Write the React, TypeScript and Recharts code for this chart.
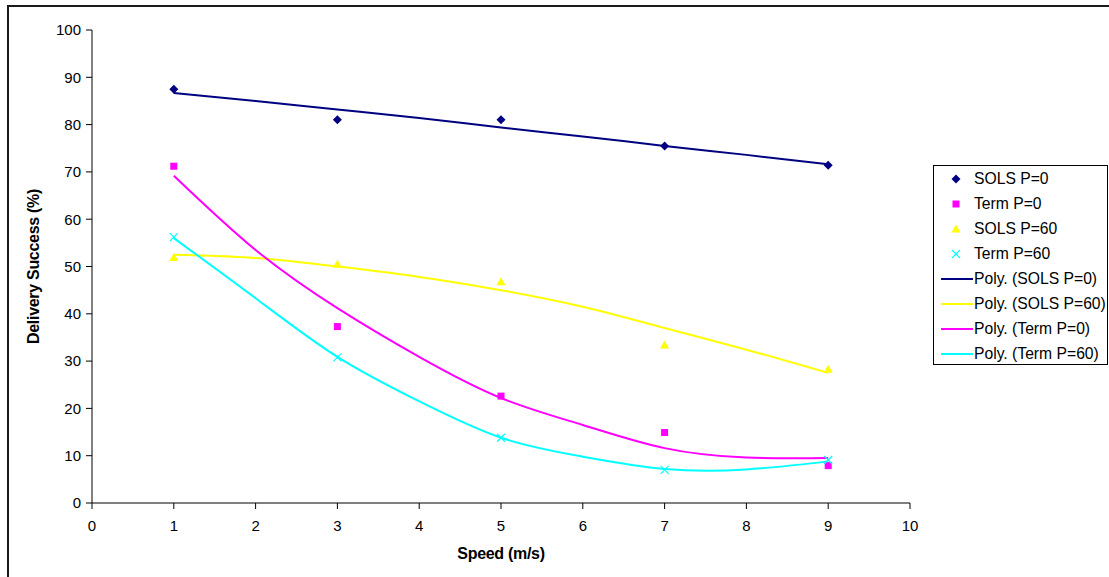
import React from 'react';
import { ComposedChart, XAxis, YAxis, Scatter, Line } from 'recharts';

// ---- data ----
const speeds = [1, 3, 5, 7, 9];
const solsP0 = [87.5, 81.0, 81.0, 75.5, 71.4];
const termP0 = [71.2, 37.3, 22.6, 14.9, 7.9];
const solsP60 = [51.9, 50.5, 46.8, 33.4, 28.3];
const termP60 = [56.2, 30.8, 13.8, 7.0, 9.1];

const fitSpeeds = [1, 2, 3, 4, 5, 6, 7, 8, 9];
const fitSolsP0 = [86.7, 85.0, 83.2, 81.4, 79.4, 77.5, 75.5, 73.6, 71.6];
const fitSolsP60 = [52.5, 51.8, 50.0, 47.8, 45.0, 41.5, 37.0, 32.4, 27.5];
const fitTermP0 = [69.2, 53.5, 41.2, 30.9, 22.2, 16.5, 11.6, 9.6, 9.5];
const fitTermP60 = [56.0, 43.3, 30.9, 21.5, 13.8, 9.8, 7.2, 7.1, 8.8];

const xTicks = [0, 1, 2, 3, 4, 5, 6, 7, 8, 9, 10];
const yTicks = [0, 10, 20, 30, 40, 50, 60, 70, 80, 90, 100];

const NAVY = '#000080';
const MAGENTA = '#FF00FF';
const YELLOW = '#FFFF00';
const CYAN = '#00FFFF';
const FONT = '"Liberation Sans", Arial, sans-serif';

const pts = (ys: number[]) => speeds.map((x, i) => ({ x, y: ys[i] }));
const fit = (ys: number[]) => fitSpeeds.map((x, i) => ({ x, y: ys[i] }));

const Diamond = (p: any) => (
  <polygon points={`${p.cx},${p.cy - 4.5} ${p.cx + 4.5},${p.cy} ${p.cx},${p.cy + 4.5} ${p.cx - 4.5},${p.cy}`} fill={NAVY} />
);
const Square = (p: any) => <rect x={p.cx - 3.5} y={p.cy - 3.5} width={7} height={7} fill={MAGENTA} />;
const Triangle = (p: any) => (
  <polygon points={`${p.cx},${p.cy - 4.5} ${p.cx + 4.5},${p.cy + 3.5} ${p.cx - 4.5},${p.cy + 3.5}`} fill={YELLOW} />
);
const Cross = (p: any) => (
  <g stroke={CYAN} strokeWidth={1.2}>
    <line x1={p.cx - 4} y1={p.cy - 4} x2={p.cx + 4} y2={p.cy + 4} />
    <line x1={p.cx - 4} y1={p.cy + 4} x2={p.cx + 4} y2={p.cy - 4} />
  </g>
);

const legendItems: { label: string; kind: string; color: string }[] = [
  { label: 'SOLS P=0', kind: 'diamond', color: NAVY },
  { label: 'Term P=0', kind: 'square', color: MAGENTA },
  { label: 'SOLS P=60', kind: 'triangle', color: YELLOW },
  { label: 'Term P=60', kind: 'cross', color: CYAN },
  { label: 'Poly. (SOLS P=0)', kind: 'line', color: NAVY },
  { label: 'Poly. (SOLS P=60)', kind: 'line', color: YELLOW },
  { label: 'Poly. (Term P=0)', kind: 'line', color: MAGENTA },
  { label: 'Poly. (Term P=60)', kind: 'line', color: CYAN },
];

const LegendIcon = ({ kind }: { kind: string }) => {
  const c = { cx: 17, cy: 7 } as any;
  return (
    <svg width={34} height={14} style={{ display: 'block' }}>
      {kind === 'diamond' && <Diamond {...c} />}
      {kind === 'square' && <Square {...c} />}
      {kind === 'triangle' && <Triangle {...c} />}
      {kind === 'cross' && <Cross {...c} />}
    </svg>
  );
};

const YLabel = (props: any) => {
  const vb = props.viewBox || {};
  const cx = vb.x + vb.width - 59;
  const cy = vb.y + vb.height / 2;
  return (
    <text x={cx} y={cy} transform={`rotate(-90 ${cx} ${cy})`} textAnchor="middle" dominantBaseline="central"
      style={{ fontFamily: FONT, fontSize: 16, fontWeight: 'bold', letterSpacing: -0.3 }} fill="#000">
      Delivery Success (%)
    </text>
  );
};

export default function App() {
  return (
    <div style={{ position: 'absolute', left: 0, top: 0, width: 1109, height: 577, overflow: 'hidden', background: '#fff' }}>
      <div style={{ position: 'absolute', left: 7, top: 5, width: 1300, height: 800, borderLeft: '2px solid #1a1a1a', borderTop: '2px solid #1a1a1a' }} />
      <div style={{ position: 'absolute', left: 0, top: 0 }}>
        <ComposedChart width={1109} height={577} margin={{ top: 30, right: 199, bottom: 30, left: 32 }}>
          <XAxis xAxisId="b" type="number" dataKey="x" domain={[0, 10]} ticks={xTicks} interval={0} allowDataOverflow
            height={44} stroke="#000" tickSize={6} tickMargin={11}
            tick={{ fill: '#000', fontFamily: FONT, fontSize: 15 }}
            tickLine={{ stroke: '#000' }} axisLine={{ stroke: '#000' }}
            label={{ value: 'Speed (m/s)', position: 'bottom', offset: 1, style: { fontFamily: FONT, fontSize: 16, fontWeight: 'bold', letterSpacing: -0.3, fill: '#000' } }} />
          <XAxis xAxisId="t" orientation="top" type="number" dataKey="x" domain={[0, 10]} height={0} tick={false} tickLine={false}
            axisLine={{ stroke: '#808080' }} />
          <YAxis yAxisId="l" type="number" domain={[0, 100]} ticks={yTicks} interval={0} width={60}
            stroke="#000" tickSize={6} tickMargin={5}
            tick={{ fill: '#000', fontFamily: FONT, fontSize: 15 }}
            tickLine={{ stroke: '#000' }} axisLine={{ stroke: '#000' }}
            label={{ content: YLabel }} />
          <YAxis yAxisId="r" orientation="right" type="number" domain={[0, 100]} width={0} tick={false} tickLine={false}
            axisLine={{ stroke: '#808080' }} />

          <Line xAxisId="b" yAxisId="l" data={fit(fitSolsP0)} dataKey="y" type="natural" stroke={NAVY} strokeWidth={2} dot={false} activeDot={false} isAnimationActive={false} />
          <Line xAxisId="b" yAxisId="l" data={fit(fitSolsP60)} dataKey="y" type="natural" stroke={YELLOW} strokeWidth={2} dot={false} activeDot={false} isAnimationActive={false} />
          <Line xAxisId="b" yAxisId="l" data={fit(fitTermP0)} dataKey="y" type="natural" stroke={MAGENTA} strokeWidth={2} dot={false} activeDot={false} isAnimationActive={false} />
          <Line xAxisId="b" yAxisId="l" data={fit(fitTermP60)} dataKey="y" type="natural" stroke={CYAN} strokeWidth={2} dot={false} activeDot={false} isAnimationActive={false} />

          <Scatter xAxisId="b" yAxisId="l" data={pts(solsP0)} dataKey="y" shape={Diamond} isAnimationActive={false} />
          <Scatter xAxisId="b" yAxisId="l" data={pts(termP0)} dataKey="y" shape={Square} isAnimationActive={false} />
          <Scatter xAxisId="b" yAxisId="l" data={pts(solsP60)} dataKey="y" shape={Triangle} isAnimationActive={false} />
          <Scatter xAxisId="b" yAxisId="l" data={pts(termP60)} dataKey="y" shape={Cross} isAnimationActive={false} />
        </ComposedChart>
      </div>
      <div style={{ position: 'absolute', left: 933, top: 165, width: 175, height: 200, border: '1px solid #000', background: '#fff', boxSizing: 'border-box', paddingTop: 0 }}>
        {legendItems.map((it) => (
          <div key={it.label} style={{ display: 'flex', alignItems: 'center', height: 25, fontFamily: FONT, fontSize: 15.7, color: '#000', whiteSpace: 'nowrap' }}>
            <div style={{ width: 39, display: 'flex', justifyContent: 'flex-end', paddingRight: 1 }}>
              {it.kind === 'line'
                ? <div style={{ width: 32, height: 2, background: it.color }} />
                : <LegendIcon kind={it.kind} />}
            </div>
            <span>{it.label}</span>
          </div>
        ))}
      </div>
    </div>
  );
}
